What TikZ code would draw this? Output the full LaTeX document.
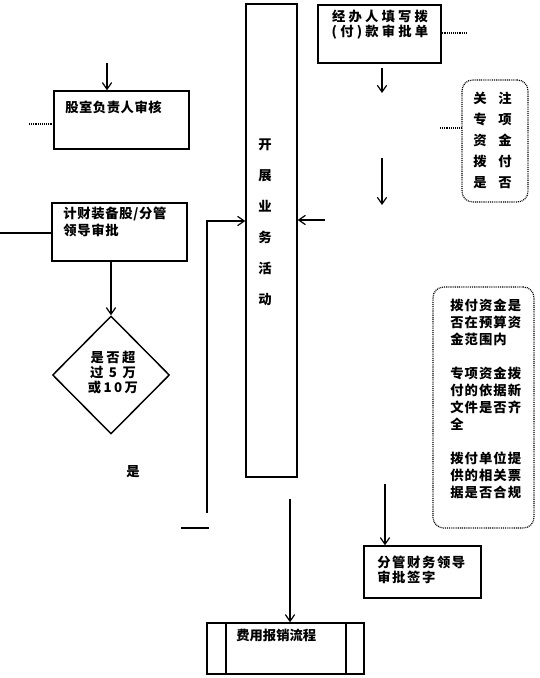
\documentclass[tikz,border=0pt]{standalone}
\usepackage{fontspec}
\setmainfont{Noto Sans CJK SC}
\usetikzlibrary{arrows.meta,shapes.geometric,fit}
\newcommand\cjkfs[2]{\bfseries\fontsize{#1}{#2}\selectfont}
\newcommand\lsp[1]{\addfontfeature{LetterSpace=#1}}
\begin{document}
\begin{tikzpicture}[x=0.75pt,y=-0.75pt,
  box/.style={draw, line width=1.1pt, inner sep=0pt},
  rbox/.style={draw, line width=0.9pt, dash pattern=on 0.7pt off 0.7pt, rounded corners=8pt, inner sep=0pt},
  txt/.style={inner sep=0pt, font=\cjkfs{10}{12}},
  conn/.style={line width=0.9pt},
  arr/.style={conn, -{Straight Barb[length=5pt,width=7pt]}},
  dot/.style={line width=0.9pt, dash pattern=on 0.7pt off 0.7pt}]
\useasboundingbox (0,0) rectangle (539,678);

% boxes
\node[box, fit={(246,4)(297,477)}] (biz) {};
\node[box, fit={(318,5)(441,63)}] (jb) {};
\node[box, fit={(54,91)(189,149)}] (gs) {};
\node[box, fit={(52,203)(187,261)}] (jc) {};
\node[box, fit={(364,546)(481,598)}] (fg) {};
\node[box, fit={(207,623)(364,674)}] (fy) {};
\node[rbox, fit={(462,80)(528,202)}] (gz) {};
\node[rbox, fit={(433,287)(534,528)}] (cond) {};
\node[draw, diamond, aspect=1, line width=1.1pt, inner sep=0pt,
      minimum width=87.75pt, minimum height=88.5pt] (dia) at (111,375) {};

% inner bars of predefined process
\coordinate (v1) at (226,0);
\coordinate (v2) at (346,0);
\draw[conn] (fy.north -| v1) -- (fy.south -| v1);
\draw[conn] (fy.north -| v2) -- (fy.south -| v2);

% texts
\node[txt, align=center, font=\cjkfs{10}{23.25}] (bizt) at (265,222)
  {开\\展\\业\\务\\活\\动};
\node[txt, align=center, font=\cjkfs{10}{11.25}\lsp{24}] (jbt) at (380,25)
  {经办人填写拨\\(付)款审批单};
\node[txt, anchor=west, font=\cjkfs{10}{12}\lsp{4}] (gst) at (65,107) {股室负责人审核};
\node[txt, anchor=west, align=left, font=\cjkfs{10}{12.75}\lsp{5}] (jct) at (63,221.5)
  {计财装备股/分管\\领导审批};
\node[txt, align=center, font=\cjkfs{10}{11.25}\lsp{18}] (diat) at (113,373)
  {是否超\\过 5 万\\或10万};
\node[txt] (yes) at (133,472) {是};
\node[txt, align=center, font=\cjkfs{10}{15.75}] (gzt) at (492.5,140)
  {关\hspace{8.8pt}注\\专\hspace{8.8pt}项\\资\hspace{8.8pt}金\\拨\hspace{8.8pt}付\\是\hspace{8.8pt}否};
\node[txt, anchor=west, align=left, font=\cjkfs{10}{12.75}\lsp{8}] (condt) at (450,398.5)
  {拨付资金是\\否在预算资\\金范围内\\[12.75pt]专项资金拨\\付的依据新\\文件是否齐\\全\\[12.75pt]拨付单位提\\供的相关票\\据是否合规};
\node[txt, anchor=west, align=left, font=\cjkfs{10}{11.25}\lsp{12}] (fgt) at (377,569.5)
  {分管财务领导\\审批签字};
\node[txt, anchor=west] (fyt) at (236,635) {费用报销流程};

% connectors
\coordinate (a1) at (382,68);
\coordinate (a1e) at (382,93);
\draw[arr] (a1) -- (a1e);
\coordinate (a2) at (382,158);
\coordinate (a2e) at (382,205);
\draw[arr] (a2) -- (a2e);
\coordinate (a3) at (325,220);
\draw[arr] (a3) -- (a3 -| biz.east);
\coordinate (l4) at (207,513);
\coordinate (l4c) at (207,221);
\draw[arr] (l4) -- (l4c) -- (l4c -| biz.west);
\coordinate (l5a) at (181,528);
\coordinate (l5b) at (209,528);
\draw[conn] (l5a) -- (l5b);
\coordinate (a6) at (107,63);
\draw[arr] (a6) -- (a6 |- gs.north);
\coordinate (d7) at (29,124);
\draw[dot] (d7) -- (d7 -| gs.west);
\coordinate (l8) at (0,233);
\draw[conn] (l8) -- (l8 -| jc.west);
\draw[arr] (dia.north |- jc.south) -- (dia.north);
\coordinate (a10) at (290,499);
\draw[arr] (a10) -- (a10 |- fy.north);
\coordinate (a11) at (385,484);
\draw[arr] (a11) -- (a11 |- fg.north);
\coordinate (d12) at (467,33);
\draw[dot] (d12 -| jb.east) -- (d12);
\coordinate (d13) at (440,128);
\draw[dot] (d13) -- (d13 -| gz.west);
\end{tikzpicture}
\end{document}
